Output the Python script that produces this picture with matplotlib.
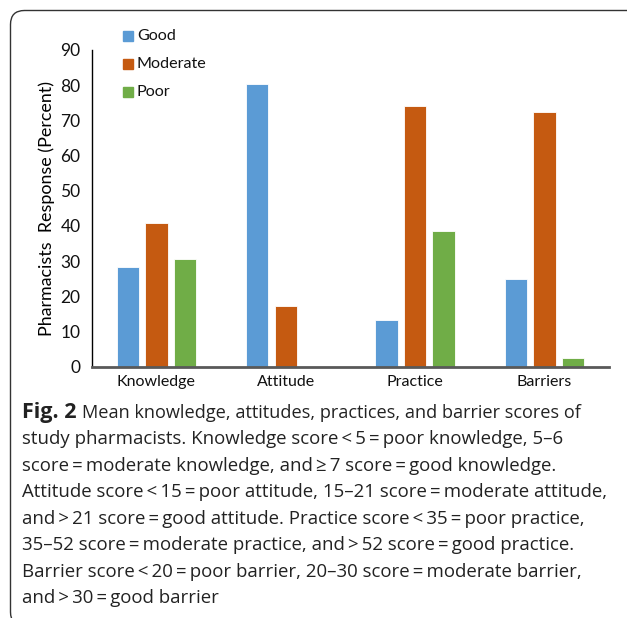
import numpy as np
import matplotlib.pyplot as plt
from matplotlib.patches import FancyBboxPatch, Rectangle

# Percent of pharmacists in each score band
categories = ['Knowledge', 'Attitude', 'Practice', 'Barriers']
good = [28.4, 80.2, 13.4, 24.8]
moderate = [40.8, 17.3, 74.0, 72.3]
poor = [30.5, 0.0, 38.6, 2.6]

series = ['Good', 'Moderate', 'Poor']
colors = ['#5B9BD5', '#C55A11', '#70AD47']

caption_lines = [
    'Mean knowledge, attitudes, practices, and barrier scores of',
    'study pharmacists. Knowledge score\u2009<\u20095\u2009=\u2009poor knowledge, 5\u20136',
    'score\u2009=\u2009moderate knowledge, and\u2009\u2265\u20097 score\u2009=\u2009good knowledge.',
    'Attitude score\u2009<\u200915\u2009=\u2009poor attitude, 15\u201321 score\u2009=\u2009moderate attitude,',
    'and\u2009>\u200921 score\u2009=\u2009good attitude. Practice score\u2009<\u200935\u2009=\u2009poor practice,',
    '35\u201352 score\u2009=\u2009moderate practice, and\u2009>\u200952 score\u2009=\u2009good practice.',
    'Barrier score\u2009<\u200920\u2009=\u2009poor barrier, 20\u201330 score\u2009=\u2009moderate barrier,',
    'and\u2009>\u200930\u2009=\u2009good barrier',
]

W, H = 627, 618
fig = plt.figure(figsize=(W / 100, H / 100), dpi=100)
chart_font = 'Lato'
cap_font = 'Open Sans'

# rounded frame around figure + caption, cut off on the right and bottom
frame = FancyBboxPatch((10.5, -8), 700, H - 10.5 + 8,
                       boxstyle='round,pad=0,rounding_size=14',
                       transform=None, fill=False, edgecolor='#333333',
                       linewidth=1.0)
fig.patches.append(frame)

ax = fig.add_axes([91.7 / W, 1 - 366.7 / H, 517.5 / W, 316.7 / H])
x = np.arange(len(categories))
width = 0.174
step = 0.221
for i, (name, vals) in enumerate(zip(series, [good, moderate, poor])):
    ax.bar(x + (i - 1) * step, vals, width, color=colors[i],
           edgecolor='white', linewidth=0.6, label=name, zorder=2)

ax.set_xlim(-0.5, 3.5)
ax.set_ylim(0, 90)
ax.set_yticks(range(0, 91, 10))
ax.set_xticks(x)
ax.set_xticklabels(categories, fontfamily=chart_font, fontsize=11.5)
for lab in ax.get_yticklabels():
    lab.set_fontfamily(chart_font)
    lab.set_fontsize(12.5)
ax.tick_params(axis='both', length=0, colors='#111111')
ax.tick_params(axis='y', pad=8)
ax.tick_params(axis='x', pad=6)
for s in ['top', 'right']:
    ax.spines[s].set_visible(False)
ax.spines['left'].set_color('black')
ax.spines['left'].set_linewidth(1.0)
ax.spines['bottom'].set_color('#595959')
ax.spines['bottom'].set_linewidth(2.0)
ax.spines['bottom'].set_zorder(3)
ax.set_ylabel('Pharmacists  Response (Percent)', fontfamily=chart_font,
              fontsize=12.9, labelpad=4)

# legend drawn by hand in pixel space
for i, name in enumerate(series):
    yc = H - (36 + 28 * i)
    fig.patches.append(Rectangle((123, yc - 5), 10, 10, color=colors[i],
                                 transform=None))
    fig.text(137 / W, yc / H, name, fontfamily=chart_font, fontsize=11.6,
             va='center', ha='left', color='#111111')

# caption
cap_size = 13.4
y0, dy = 412.5, 26.55
bold = fig.text(22 / W, 1 - y0 / H, 'Fig. 2', fontfamily=cap_font,
                fontweight='bold', fontsize=15.5, va='center', ha='left',
                color='#222222')
r = fig.canvas.get_renderer()
bb = bold.get_window_extent(r)
fig.text((bb.x1 + 5) / W, 1 - y0 / H, caption_lines[0], fontfamily=cap_font,
         fontsize=13.1, va='center', ha='left', color='#222222')
for k, line in enumerate(caption_lines[1:], start=1):
    fig.text(22 / W, 1 - (y0 + dy * k) / H, line, fontfamily=cap_font,
             fontsize=cap_size, va='center', ha='left', color='#222222')

fig.savefig('out.png', dpi=100)
